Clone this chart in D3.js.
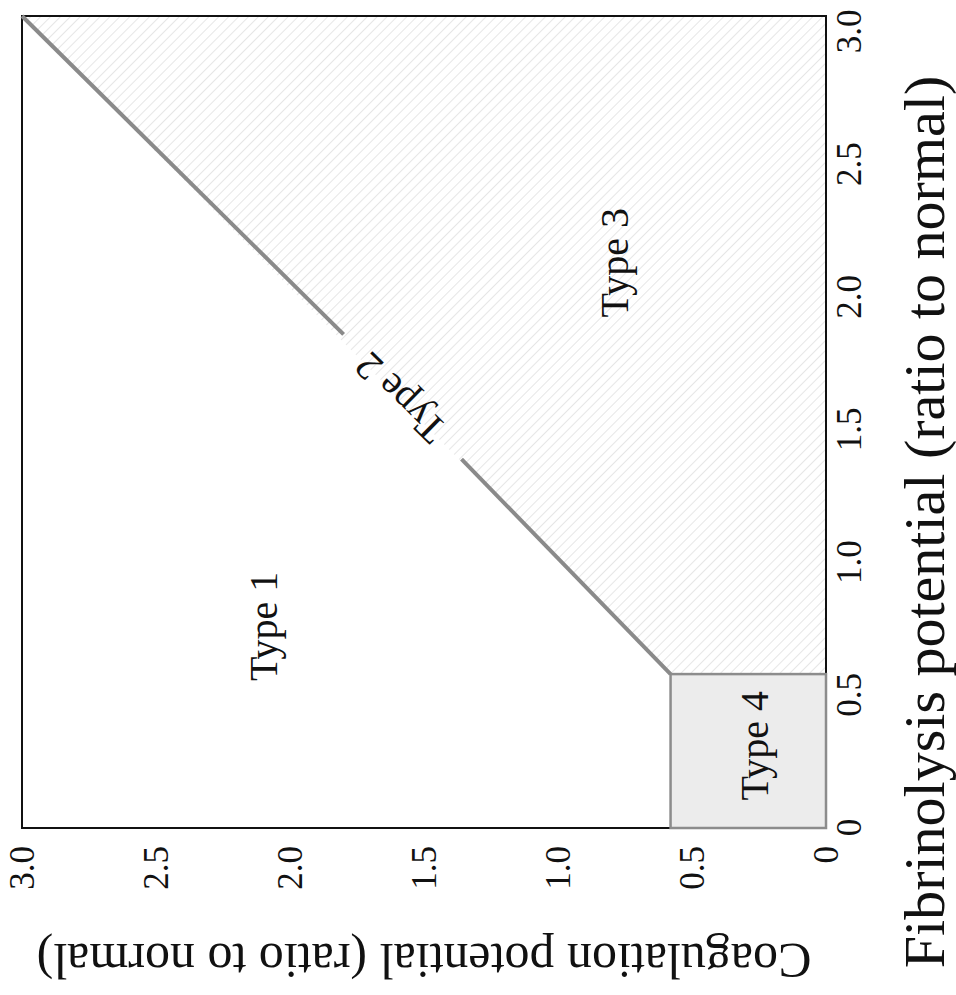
<!DOCTYPE html>
<html>
<head>
<meta charset="utf-8">
<script src="https://cdn.jsdelivr.net/npm/d3@7"></script>
<style>
  html, body { margin: 0; padding: 0; background: #fff; }
  svg { display: block; }
  text { font-family: "Liberation Serif", "Times New Roman", serif; fill: #111; }
</style>
</head>
<body>
<svg id="chart" width="956" height="995"></svg>
<script>
// Axis ticks (both axes are ratios to normal)
const tickValues = [0, 0.5, 1.0, 1.5, 2.0, 2.5, 3.0];
const fibDomain = [0, 3.06];
const coagDomain = [0, 3.0];

// Threshold below which both potentials define Type 4
const type4Limit = 0.58;

// Type 2 boundary, drawn in two pieces around its label: [fibrinolysis, coagulation]
const type2Segments = [
  [[0.58, 0.58], [1.39, 1.36]],
  [[1.86, 1.80], [3.06, 3.0]]
];

// Region labels and their positions (fibrinolysis, coagulation)
const typeNames = ["Type 1", "Type 2", "Type 3", "Type 4"];
const typeFib   = [0.76, 1.62, 2.13, 0.31];
const typeCoag  = [2.10, 1.59, 0.79, 0.27];

const xTitle = "Fibrinolysis potential (ratio to normal)";
const yTitle = "Coagulation potential (ratio to normal)";

const W = 812, H = 804;
const svg = d3.select("#chart");

// The whole chart is laid out in a frame turned a quarter turn counter-clockwise
const g = svg.append("g").attr("transform", "translate(22,828) rotate(-90)");

const x = d3.scaleLinear().domain(fibDomain).range([0, W]);
const y = d3.scaleLinear().domain(coagDomain).range([H, 0]);

// Light diagonal hatching for the Type 3 area
const defs = svg.append("defs");
const pat = defs.append("pattern")
  .attr("id", "hatch")
  .attr("patternUnits", "userSpaceOnUse")
  .attr("width", 7).attr("height", 7)
  .attr("patternTransform", "rotate(-45)");
pat.append("line")
  .attr("x1", 0).attr("y1", 0).attr("x2", 0).attr("y2", 7)
  .attr("stroke", "#e6e6e6").attr("stroke-width", 2);

const fibMax = fibDomain[1], coagMax = coagDomain[1];
const type3Poly = [[type4Limit, type4Limit], [fibMax, coagMax], [fibMax, 0], [type4Limit, 0]];
g.append("path")
  .attr("d", d3.line().x(d => x(d[0])).y(d => y(d[1]))(type3Poly) + "Z")
  .attr("fill", "url(#hatch)");

// Plot frame
g.append("rect")
  .attr("x", 0).attr("y", 0).attr("width", W).attr("height", H)
  .attr("fill", "none").attr("stroke", "#111").attr("stroke-width", 2);

// Type 4 box
g.append("rect")
  .attr("x", x(0)).attr("y", y(type4Limit))
  .attr("width", x(type4Limit) - x(0))
  .attr("height", y(0) - y(type4Limit))
  .attr("fill", "#ececec")
  .attr("stroke", "#8c8c8c").attr("stroke-width", 2.5);

// Type 2 boundary line
g.selectAll("line.type2")
  .data(type2Segments)
  .join("line")
  .attr("class", "type2")
  .attr("x1", d => x(d[0][0])).attr("y1", d => y(d[0][1]))
  .attr("x2", d => x(d[1][0])).attr("y2", d => y(d[1][1]))
  .attr("stroke", "#8a8a8a").attr("stroke-width", 4);

// Axes
const fmt = v => v === 0 ? "0" : d3.format(".1f")(v);
const xAxis = g.append("g")
  .attr("transform", `translate(0,${H})`)
  .call(d3.axisBottom(x).tickValues(tickValues).tickFormat(fmt).tickSize(0).tickPadding(10));
const yAxis = g.append("g")
  .call(d3.axisLeft(y).tickValues(tickValues).tickFormat(fmt).tickSize(0).tickPadding(18));
[xAxis, yAxis].forEach(a => {
  a.select(".domain").remove();
  a.selectAll("text").style("font-family", '"Liberation Serif", "Times New Roman", serif')
    .style("font-size", "35px").attr("fill", "#111");
});

// Axis titles
g.append("text")
  .attr("x", W / 2 - 100).attr("y", H + 118)
  .attr("text-anchor", "middle")
  .style("font-size", "58px")
  .text(xTitle);
g.append("text")
  .attr("transform", `translate(${-116},${H / 2}) rotate(-90)`)
  .attr("text-anchor", "middle")
  .style("font-size", "50px")
  .text(yTitle);

// Region labels
const seg = type2Segments[1];
const diagAngle = Math.atan2(y(seg[1][1]) - y(seg[0][1]), x(seg[1][0]) - x(seg[0][0])) * 180 / Math.PI;
g.selectAll("text.type")
  .data(typeNames)
  .join("text")
  .attr("class", "type")
  .attr("text-anchor", "middle")
  .attr("dy", "0.35em")
  .style("font-size", "40px")
  .attr("transform", (d, i) =>
    `translate(${x(typeFib[i])},${y(typeCoag[i])})` + (d === "Type 2" ? ` rotate(${diagAngle})` : ""))
  .text(d => d);
</script>
</body>
</html>
